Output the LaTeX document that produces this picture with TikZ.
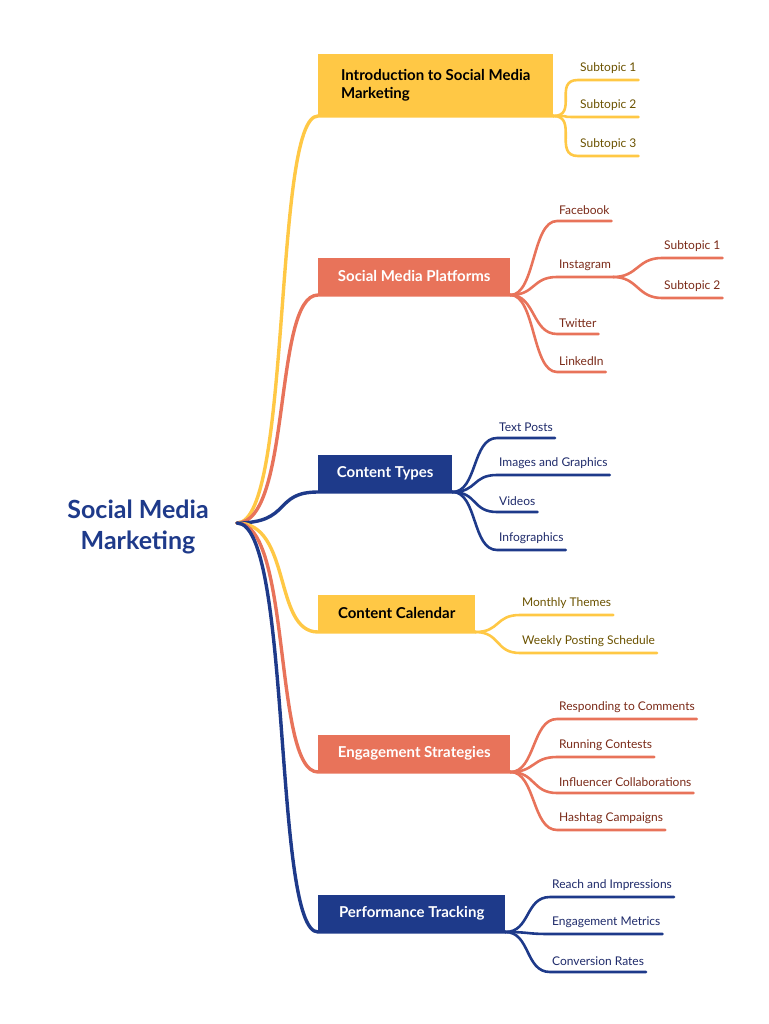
\documentclass[tikz,border=0pt]{standalone}
\usepackage{fontspec}
\setmainfont{Lato}
\definecolor{smyellow}{HTML}{FFC845}
\definecolor{smorange}{HTML}{E8735A}
\definecolor{smnavy}{HTML}{1E3A8A}
\definecolor{yltext}{HTML}{6B5200}
\definecolor{ortext}{HTML}{7A2A18}
\definecolor{nvtext}{HTML}{1E2A6A}
\begin{document}
\begin{tikzpicture}[x=1pt,y=-1pt,line cap=round,
  branch/.style={fill=#1,anchor=south west,inner xsep=14pt,inner ysep=8pt,minimum height=37pt,font=\fontsize{15}{18}\selectfont\bfseries},
  leaf/.style={anchor=south west,inner xsep=2pt,inner ysep=6pt,font=\fontsize{12}{14}\selectfont},
  link/.style={draw=#1,line width=2.6pt},
  trunk/.style={draw=#1,line width=3.4pt}]
\useasboundingbox (0,0) rectangle (768,1024);

  \node[font=\fontsize{25}{31}\selectfont\bfseries,text=smnavy,align=center] (root) at (138,527) {Social Media\\Marketing};
  \coordinate (hub) at (237,523);

  % main branches
  \node[branch=smyellow,text=black,align=left,minimum width=235pt,minimum height=62pt] (intro) at (318,116) {Introduction to Social Media\\Marketing};
  \node[branch=smorange,text=white,minimum width=192pt] (plat) at (318,295) {Social Media Platforms};
  \node[branch=smnavy,text=white,minimum width=134pt] (types) at (318,492) {Content Types};
  \node[branch=smyellow,text=black,minimum width=157pt] (cal) at (318,632) {Content Calendar};
  \node[branch=smorange,text=white,minimum width=192pt] (eng) at (318,772) {Engagement Strategies};
  \node[branch=smnavy,text=white,minimum width=187pt] (perf) at (318,932) {Performance Tracking};

  \foreach \b/\c in {intro/smyellow,plat/smorange,types/smnavy,cal/smyellow,eng/smorange,perf/smnavy}
    \draw[trunk=\c] (hub) .. controls +(55,0) and +(-45,0) .. (\b.south west) -- (\b.south east);

  % leaves
  \foreach \n/\y/\t in {1/80/Subtopic 1,2/117/Subtopic 2,3/156/Subtopic 3} {
    \node[leaf,text=yltext] (intro-\n) at (578,\y) {\t};
    \draw[link=smyellow] (intro.south east) .. controls +(25,0) and +(-25,0) .. (intro-\n.south west) -- (intro-\n.south east);
  }
  \foreach \n/\y/\t in {1/221/Facebook,2/277/Instagram,3/334/Twitter,4/372/LinkedIn} {
    \node[leaf,text=ortext] (plat-\n) at (557,\y) {\t};
    \draw[link=smorange] (plat.south east) .. controls +(25,0) and +(-25,0) .. (plat-\n.south west) -- (plat-\n.south east);
  }
  \foreach \n/\y/\t in {1/258/Subtopic 1,2/298/Subtopic 2} {
    \node[leaf,text=ortext] (insta-\n) at (662,\y) {\t};
    \draw[link=smorange] (plat-2.south east) .. controls +(25,0) and +(-25,0) .. (insta-\n.south west) -- (insta-\n.south east);
  }
  \foreach \n/\y/\t in {1/438/Text Posts,2/475/Images and Graphics,3/512/Videos,4/550/Infographics} {
    \node[leaf,text=nvtext] (types-\n) at (497,\y) {\t};
    \draw[link=smnavy] (types.south east) .. controls +(25,0) and +(-25,0) .. (types-\n.south west) -- (types-\n.south east);
  }
  \foreach \n/\y/\t in {1/615/Monthly Themes,2/653/Weekly Posting Schedule} {
    \node[leaf,text=yltext] (cal-\n) at (520,\y) {\t};
    \draw[link=smyellow] (cal.south east) .. controls +(25,0) and +(-25,0) .. (cal-\n.south west) -- (cal-\n.south east);
  }
  \foreach \n/\y/\t in {1/719/Responding to Comments,2/757/Running Contests,3/793/Influencer Collaborations,4/830/Hashtag Campaigns} {
    \node[leaf,text=ortext] (eng-\n) at (557,\y) {\t};
    \draw[link=smorange] (eng.south east) .. controls +(25,0) and +(-25,0) .. (eng-\n.south west) -- (eng-\n.south east);
  }
  \foreach \n/\y/\t in {1/897/Reach and Impressions,2/934/Engagement Metrics,3/972/Conversion Rates} {
    \node[leaf,text=nvtext] (perf-\n) at (550,\y) {\t};
    \draw[link=smnavy] (perf.south east) .. controls +(25,0) and +(-25,0) .. (perf-\n.south west) -- (perf-\n.south east);
  }
\end{tikzpicture}
\end{document}
